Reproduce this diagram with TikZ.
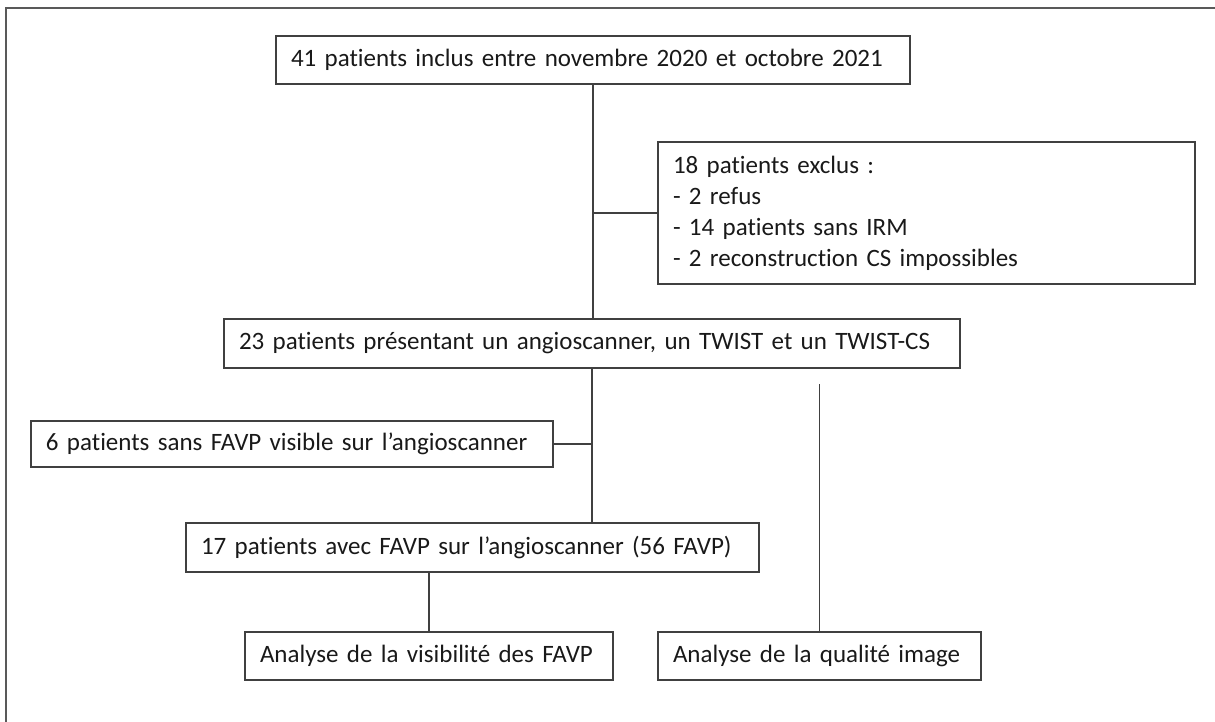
\documentclass[tikz,border=0pt]{standalone}
\usepackage{fontspec}
\setmainfont[Ligatures=NoCommon]{Carlito}
\begin{document}
\begin{tikzpicture}[x=0.5pt,y=-0.5pt,
  every node/.style={font=\fontsize{12.5}{15.5}\selectfont, text=black!90},
  box/.style={draw=black!75, line width=0.65pt, align=left, inner xsep=7.5pt,
    inner ysep=0pt, anchor=center},
  link/.style={draw=black!75, line width=0.65pt},
  frame/.style={draw=black!65, line width=0.75pt}]
\useasboundingbox (0,0) rectangle (1215,722);
% outer frame, open to the right and bottom
\draw[frame] (6,730) -- (6,8) -- (1225,8);

% boxes: centre, width and height in pixels (1px = 0.5pt)
\node[box, text width=302pt, minimum height=24pt] (incl) at (593,60)
  {41 patients inclus entre novembre 2020 et octobre 2021};
\node[box, text width=253.5pt, minimum height=71pt] (excl) at (926.5,213)
  {18 patients exclus :\\- 2 refus\\- 14 patients sans IRM\\- 2 reconstruction CS impossibles};
\node[box, text width=353pt, minimum height=24.5pt] (all) at (592,343.5)
  {23 patients présentant un angioscanner, un TWIST et un TWIST-CS};
\node[box, text width=246pt, minimum height=23pt] (sans) at (292,444)
  {6 patients sans FAVP visible sur l’angioscanner};
\node[box, text width=271.5pt, minimum height=24.5pt] (avec) at (472.5,547.5)
  {17 patients avec FAVP sur l’angioscanner (56 FAVP)};
\node[box, text width=169pt, minimum height=24pt] (visi) at (429,656)
  {Analyse de la visibilité des FAVP};
\node[box, text width=146.5pt, minimum height=24pt] (qual) at (819.5,656)
  {Analyse de la qualité image};

% connectors
\draw[link] (incl.south) -- (incl.south |- all.north);
\draw[link] (incl.south |- excl.west) -- (excl.west);
\draw[link] (all.south) -- (all.south |- avec.north);
\draw[link] (sans.east) -- (all.south |- sans.east);
\draw[link] (visi.north |- avec.south) -- (visi.north);
\coordinate (qtop) at (819.5,384);
\draw[link] (qtop) -- (qual.north);
\end{tikzpicture}
\end{document}
